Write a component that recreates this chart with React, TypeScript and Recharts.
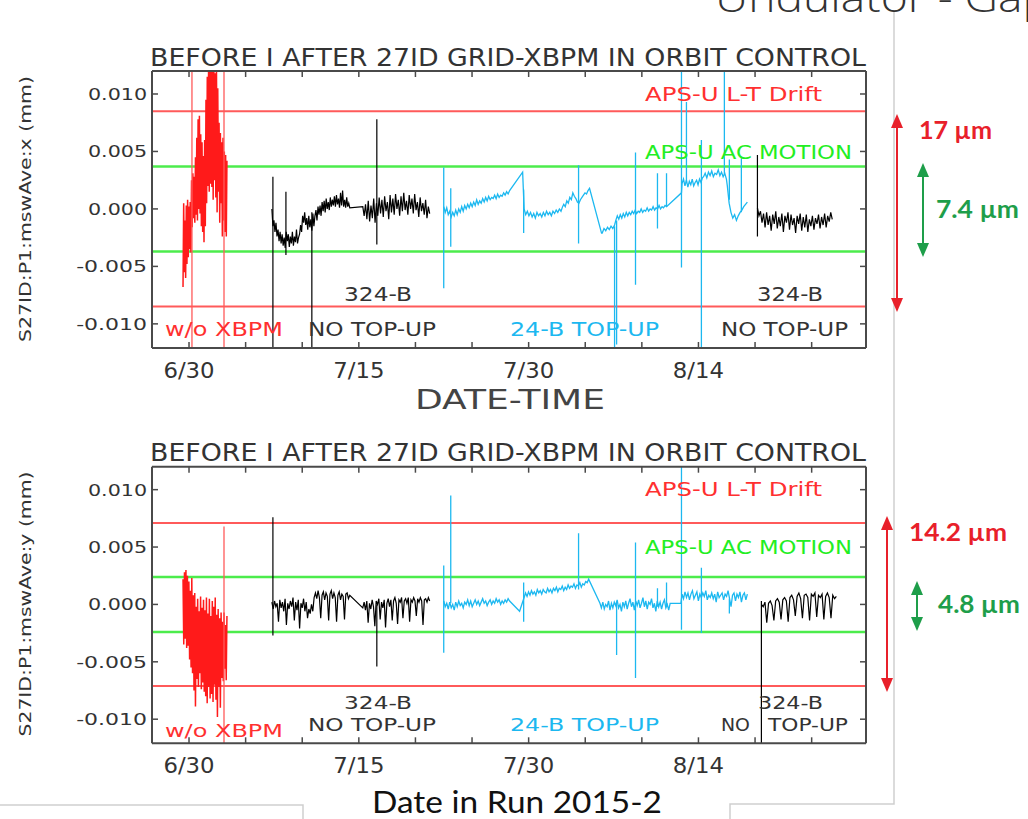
import React from 'react';
import { LineChart, Line, XAxis, YAxis, ReferenceLine } from 'recharts';

// x = days after 6/30, values in µm (converted to mm for the axis)
type Piece = [number, number, number[]];
type Spike = [number, number, number];

const X_TICKS = [0, 5, 10, 15, 20, 25, 30, 35, 40, 45, 50, 55];
const X_LABELS: Record<number, string> = { 0: '6/30', 15: '7/15', 30: '7/30', 45: '8/14' };
const Y_TICKS = [0.01, 0.005, 0, -0.005, -0.01];
const X_DOMAIN: [number, number] = [-3.27, 59.8];
const Y_DOMAIN: [number, number] = [-0.0121, 0.012];

// ---- horizontal (x) panel ----
const xRed: Piece[] = [[-0.53, 3.35, [
  -6.8, 0.5, -5.5, -1, -6, 0.3, -4.8, 0.8, -4.2, 0.2, -3.5, 0.6, -3.8, 2.5, -1.6, 3.1, -0.8, 2.8, -1.2,
  4.5, -0.5, 6.2, -1, 7.8, 0, 8.1, -0.4, 6.5, -1.5, 5.8, -2, 4.6, -2.9, 6, -1.5,
  9.5, 0.5, 11.5, 2, 12.5, 1.5, 13, 2.2, 12.8, 1.9, 13, 0.8, 12.4, 2.5, 11.8, 1, 12.6, -0.3, 10.5, 1.5,
  7.5, -1.2, 6.6, 0.5, 5.8, -2.4, 6.2, -1, 5, -2, 4.7, -2.4, 4.2,
]]];
const xRedSpikes: Spike[] = [[0.26, 12.5, -12.5], [3.09, 12.5, -12.5]];

const xBlackLeft: Piece[] = [
  [7.32, 14.2, [
    0, -1.5, -1, -2, -1.2, -2.4, -1.8, -2.8, -2.0, -3.0, -2.2, -3.2, -2.5, -3.4, -2.0,
    -2.8, -2.2, -3.3, -2.4, -3.0, -2.0, -3.2, -2.4, -2.9, -1.8, -3.0, -2.5,
    -2.2, -1.4, -2.0, -0.6, -1.2, -0.3, -1.4, -0.8, -1.8, -0.6, -1.6, -0.9, -1.9, -0.4, -1.5,
    -0.6, -0.1, -1.0, 0.2, -0.5, 0.3, -0.6, 0.6, -0.2, 0.7, -0.3, 0.9, 0, 0.6, -0.1, 1.0, 0.2, 0.8,
    0.3, 1.1, 0.2, 1.2, 0.4, 0.9, 0.1, 1.4, 0.3, 1.6, 0.2, 0.8, 0.1, 1.0, 0.2, 0.5, 0.1,
  ]],
  [15.35, 21.26, [
    0.2, -0.6, 0.4, -0.9, 0.7, -1.1, 0.3, -0.8, 0.9, -1.2, 0.5, -0.6, 1.0, -0.4, 0.8, -0.7, 1.1, -0.2,
    0.6, -0.9, 1.2, -0.3, 0.9, -0.5, 1.3, 0.0, 0.8, -0.6, 1.1, -0.2, 1.4, -0.1, 0.7, -0.5, 1.2, 0.0,
    0.9, -0.4, 1.3, -0.1, 0.6, -0.7, 1.0, -0.2, 0.5, -0.5, 0.8, -0.8, 0.2, -0.4,
  ]],
];
const xBlackRight: Piece[] = [[50.21, 56.82, [
  0.1, -0.6, -0.2, -1.2, -0.4, -1.6, -0.3, -1.4, -0.6, -1.9, -0.5, -1.3, -0.2, -1.7, -0.7, -1.5, -0.4,
  -2.0, -0.6, -1.2, -0.3, -1.8, -0.5, -1.4, -0.8, -2.1, -0.6, -1.3, -0.4, -1.9, -0.7, -1.6, -0.5, -2.0,
  -0.9, -1.5, -0.6, -1.8, -0.8, -1.3, -0.5, -1.7, -0.7, -1.4, -0.4, -1.6, -0.6, -1.1, -0.3, -0.9,
]]];
const xBlackSpikes: Spike[] = [[7.41, 2.8, -12.5], [8.56, 1.5, -4.0], [10.85, -0.3, -12.5], [16.59, 7.8, -3.1], [50.21, 4.7, -2.4]];

const xCyan: Piece[] = [
  [22.5, 28.32, [
    0.2, -0.3, 0.1, -0.5, -0.2, -0.7, -0.3, -0.6, -0.1, -0.5, 0.0, -0.3, 0.2, -0.2, 0.3, 0.0, 0.4, 0.1,
    0.5, 0.2, 0.6, 0.3, 0.8, 0.4, 0.7, 0.5, 0.9, 0.6, 1.0, 0.7, 1.1, 0.8, 1.0, 0.9, 1.2, 0.9, 1.3, 1.0,
    1.2, 1.1, 1.4, 1.2, 1.5, 1.3, 1.6,
  ]],
  [29.47, 29.47, [3.2]],
  [29.6, 33.0, [
    0.0, -0.5, -0.2, -0.6, -0.3, -0.7, -0.4, -0.8, -0.3, -0.6, -0.4, -0.7, -0.3, -0.6, -0.2, -0.5, -0.3,
    -0.6, -0.2, -0.4, -0.1, -0.3, 0.0, -0.2, 0.2,
  ]],
  [33.1, 35.38, [0.4, 0.2, 0.7, 0.5, 1.0, 0.8, 1.4, 1.1, 0.9, 0.6, 0.5, 0.8, 1.0, 1.2, 1.4, 1.3, 1.6, 1.8]],
  [36.44, 36.44, [-2.1]],
  [36.5, 37.59, [-2.1, -1.7, -1.9, -1.6, -1.8, -1.5, -1.7, -1.4]],
  [37.7, 42.18, [
    -1.0, -0.6, -0.9, -0.5, -0.8, -0.4, -0.7, -0.3, -0.6, -0.3, -0.5, -0.2, -0.4, -0.1, -0.4, -0.2, -0.3,
    0.0, -0.3, -0.1, -0.2, 0.1, -0.2, 0.0, -0.1, 0.2, -0.1, 0.1, 0.0, 0.3, 0.0, 0.2, 0.1, 0.3, 0.2,
  ]],
  [43.5, 43.5, [1.4]],
  [43.55, 45.35, [2.2, 2.6, 2.0, 2.5, 1.9, 2.4, 2.1, 2.6, 2.0, 2.3, 2.5, 2.1, 2.6, 2.3, 2.7]],
  [45.45, 47.47, [2.8, 3.1, 2.7, 3.2, 2.9, 3.3, 2.8, 3.1, 3.0, 3.4, 2.9, 3.2, 2.8, 3.1, 2.6]],
  [47.55, 49.32, [2.0, 0.5, -0.3, -0.8, -0.5, -1.0, -0.6, -0.3, -0.1, 0.2, 0.4, 0.6]],
];
const xCyanSpikes: Spike[] = [
  [22.5, 3.6, -6.9], [23.12, 1.8, -3.3], [29.56, 1.7, -2.1], [34.41, 3.8, -3.0], [37.59, -1.5, -12.5],
  [37.77, -1.0, -11.8], [39.44, 4.9, -6.6], [41.38, 3.1, -1.7], [42.18, 3.1, 0.2], [43.5, 12.5, -5.1],
  [43.94, 9.3, 2.3], [45.26, 6.0, -12.5], [47.29, 12.5, 3.0], [47.73, 4.3, 0.8], [48.79, 4.4, -0.3],
];

// ---- vertical (y) panel ----
const yRed: Piece[] = [[-0.53, 3.35, [
  2.2, -3.5, 2.8, -3.0, 3.0, -3.8, 2.5, -3.6, 2.0, -4.8, 1.2, -5.5, 2.3, -6.0, 0.8, -7.5, 1.0, -8.9,
  -0.2, -6.5, 0.5, -7.2, -0.6, -6.0, 0.7, -7.4, -0.3, -6.8, 0.4, -7.6, -0.5, -8.0, 0.6, -8.6, -0.8,
  -7.2, 0.5, -8.2, -1.0, -7.8, 0.3, -8.5, -0.2, -7.0, 0.6, -8.3, -0.9, -9.8, -0.4, -7.2, -1.2, -9.0,
  -0.7, -6.4, -1.5, -6.7, -0.7, -5.6, -1.8, -6.6, -1.0,
]]];
const yRedSpikes: Spike[] = [[3.09, 6.8, -12.5]];

const yBlackLeft: Piece[] = [
  [7.32, 14.2, [
    0.2, -0.4, 0.3, -0.2, 0.1, -1.5, 0.4, -0.3, 0.2, -0.6, 0.5, -1.8, 0.1, -0.4, 0.3, -0.2, 0.6, -1.4,
    0.2, -0.5, 0.4, -2.1, 0.1, -0.3, 0.5, -0.6, 0.2, -1.2, -0.4, -0.8, 0.0, -0.6, 0.6, 1.0, 0.5, 1.2,
    0.6, -1.2, 0.8, 1.1, 0.4, 1.0, 0.7, -1.4, 0.9, 1.2, 0.5, 1.0, 0.6, -1.5, 0.8, 1.1, 0.4, 0.9, 0.7,
    -1.3, 0.9, 1.0, 0.5, 0.8,
  ]],
  [15.35, 21.26, [
    -0.3, 0.2, -0.5, 0.3, -1.6, 0.1, -0.4, 0.4, -0.2, -1.9, 0.3, 0.0, 0.5, -1.3, 0.2, -0.3, 0.4, -2.0,
    0.1, 0.5, -0.2, 0.4, -1.4, 0.3, 0.6, 0.1, -1.7, 0.4, 0.2, 0.6, -1.2, 0.3, 0.5, 0.1, 0.6, -1.5, 0.4,
    0.2, 0.6, 0.3, -1.0, 0.5, 0.2, 0.6, 0.3, -1.8, 0.4, 0.5, 0.2, 0.6, 0.3,
  ]],
];
const yBlackRight: Piece[] = [[50.56, 57.18, [
  0.0, -0.2, 0.2, -1.6, 0.1, 0.3, -0.1, -1.4, 0.3, 0.5, 0.2, -1.3, 0.4, 0.6, 0.3, -1.5, 0.6, 0.8, 0.4,
  -1.0, 0.7, 1.0, 0.5, -1.2, 0.8, 0.9, 0.6, -1.4, 0.9, 0.7, 1.0, -1.1, 0.8, 0.6, 0.9, -1.3, 0.7, 1.0,
  0.6, -1.2, 0.8, 0.5, 0.7,
]]];
const yBlackSpikes: Spike[] = [[7.41, 7.6, -2.7], [16.59, 0.0, -5.4], [50.56, 0.3, -12.5]];

const yCyan: Piece[] = [
  [22.5, 28.32, [
    0.3, -0.2, 0.1, -0.4, 0.2, -0.3, 0.0, -0.5, 0.2, -0.2, 0.3, -0.1, 0.1, -0.3, 0.2, 0.0, 0.4, -0.1,
    0.3, -0.2, 0.1, 0.4, 0.0, 0.3, -0.1, 0.2, 0.5, 0.1, 0.3, -0.1, 0.2, 0.4, 0.0, 0.3, 0.1, 0.5, 0.2,
    0.4, 0.0, 0.3, 0.1, 0.4, 0.2, 0.5, 0.3,
  ]],
  [29.2, 29.2, [-0.6]],
  [29.6, 35.3, [
    0.6, 1.0, 0.7, 1.1, 0.8, 1.2, 0.9, 1.1, 0.8, 1.3, 1.0, 1.2, 0.9, 1.3, 1.1, 1.0, 1.4, 1.1, 1.3, 1.0,
    1.4, 1.2, 1.5, 1.1, 1.4, 1.3, 1.6, 1.2, 1.5, 1.3, 1.7, 1.4, 1.6, 1.5, 1.8, 1.4, 1.7, 1.6, 1.9, 1.5,
    1.8, 1.7, 2.0, 1.9, 2.2,
  ]],
  [36.3, 42.5, [
    0.1, -0.3, 0.2, -0.4, 0.0, -0.2, 0.3, -0.5, 0.1, -0.3, 0.2, -0.1, 0.4, -0.3, 0.0, -0.6, 0.2, -0.2,
    0.3, -0.4, 0.1, 0.5, -0.2, 0.2, -0.5, 0.3, -0.1, 0.4, -0.3, 0.1, 0.6, -0.2, 0.3, -0.4, 0.2, 0.0,
    0.5, -0.3, 0.1, -0.6, 0.3, -0.2, 0.2, -0.4, 0.1, 0.4, -0.3, 0.0, -0.5, 0.1,
  ]],
  [43.45, 43.45, [0.1]],
  [43.55, 49.32, [
    0.9, 0.5, 1.1, 0.6, 1.0, 0.4, 0.9, 1.2, 0.5, 0.8, 1.1, 0.3, 0.9, 0.6, 1.0, 0.7, 1.2, 0.4, 0.8, 0.6,
    1.0, 0.5, 0.9, 0.2, 1.1, 0.6, 0.8, 1.0, 0.4, 0.9, 0.7, 1.2, 0.5, -0.2, 0.8, 1.0, 0.3, 0.9, 0.6, 1.1,
    0.2, 0.8, 1.0, 0.4, 0.9,
  ]],
];
const yCyanSpikes: Spike[] = [
  [22.5, 3.4, -4.2], [23.12, 9.5, 0.1], [29.56, 1.9, -1.5], [34.41, 6.2, 1.3], [37.77, 0.2, -4.4],
  [39.44, 5.4, -6.4], [41.38, 1.4, -0.2], [42.18, 1.9, -0.2], [43.5, 12.5, -2.2], [45.26, 3.2, -2.5],
  [47.73, 0.5, -0.8],
];

// APS-U limits (µm, half widths)
const X_LIMITS = { drift: 8.5, ac: 3.7 };
const Y_LIMITS = { drift: 7.1, ac: 2.4 };

const RED = '#ff1a1a';
const CYAN = '#1cb8f0';
const REF_RED = '#ff5a5a';
const REF_GREEN = '#4cec4c';
const FRAME = '#4a4a4a';
const INK = '#333';
const PLOT_FONT = 'DejaVu Sans, sans-serif';

const toData = (pieces: Piece[]) =>
  pieces.flatMap(([a, b, vals]) =>
    vals.map((v, i) => ({ x: vals.length > 1 ? a + (i * (b - a)) / (vals.length - 1) : a, y: v / 1000 }))
  );
const toSpikes = (spikes: Spike[]) =>
  spikes.flatMap(([d, hi, lo]) => [{ x: d, y: hi / 1000 }, { x: d, y: lo / 1000 }, { x: d, y: null }]);

const BottomTick = (props: any) => {
  const { x, y, payload } = props;
  const label = X_LABELS[payload.value];
  return (
    <g>
      <line x1={x} x2={x} y1={y} y2={y - 6} stroke={FRAME} strokeWidth={1.5} />
      {label && (
        <text x={x} y={y + 30} textAnchor="middle" fontFamily={PLOT_FONT} fontSize={21} fill={INK}
          textLength={label.length * 12.8} lengthAdjust="spacingAndGlyphs">{label}</text>
      )}
    </g>
  );
};
const TopTick = (props: any) => (
  <line x1={props.x} x2={props.x} y1={props.y} y2={props.y + 6} stroke={FRAME} strokeWidth={1.5} />
);
const LeftTick = (props: any) => {
  const { x, y, payload } = props;
  const label = (payload.value as number).toFixed(3);
  return (
    <g>
      <line x1={x} x2={x + 6} y1={y} y2={y} stroke={FRAME} strokeWidth={1.5} />
      <text x={x - 5} y={y + 6} textAnchor="end" fontFamily={PLOT_FONT} fontSize={16} fill={INK}
        textLength={label.length * 11.8} lengthAdjust="spacingAndGlyphs">{label}</text>
    </g>
  );
};
const RightTick = (props: any) => (
  <line x1={props.x} x2={props.x - 6} y1={props.y} y2={props.y} stroke={FRAME} strokeWidth={1.5} />
);

interface PanelProps {
  height: number;
  top: number;
  bottom: number;
  red: Piece[];
  redSpikes: Spike[];
  blackLeft: Piece[];
  blackRight: Piece[];
  blackSpikes: Spike[];
  cyan: Piece[];
  cyanSpikes: Spike[];
  limits: { drift: number; ac: number };
}

const axisLine = { stroke: FRAME, strokeWidth: 2 };

const Panel: React.FC<PanelProps> = (p) => (
  <LineChart width={1028} height={p.height} margin={{ top: p.top - 10, right: 152, bottom: p.bottom - 40, left: 92 }}>
    <XAxis dataKey="x" type="number" domain={X_DOMAIN} allowDataOverflow ticks={X_TICKS} interval={0}
      height={40} tickSize={0} tickMargin={0} tick={BottomTick} axisLine={axisLine} />
    <XAxis xAxisId="top" orientation="top" dataKey="x" type="number" domain={X_DOMAIN} allowDataOverflow ticks={X_TICKS}
      interval={0} height={10} tickSize={0} tickMargin={0} tick={TopTick} axisLine={axisLine} />
    <YAxis type="number" domain={Y_DOMAIN} allowDataOverflow ticks={Y_TICKS} interval={0} width={60}
      tickSize={0} tickMargin={0} tick={LeftTick} axisLine={axisLine} />
    <YAxis yAxisId="right" orientation="right" type="number" domain={Y_DOMAIN} allowDataOverflow ticks={Y_TICKS}
      interval={0} width={10} tickSize={0} tickMargin={0} tick={RightTick} axisLine={axisLine} />
    <ReferenceLine y={p.limits.drift / 1000} stroke={REF_RED} strokeWidth={2} />
    <ReferenceLine y={-p.limits.drift / 1000} stroke={REF_RED} strokeWidth={2} />
    <ReferenceLine y={p.limits.ac / 1000} stroke={REF_GREEN} strokeWidth={2.5} />
    <ReferenceLine y={-p.limits.ac / 1000} stroke={REF_GREEN} strokeWidth={2.5} />
    <Line data={toData(p.red)} dataKey="y" stroke={RED} strokeWidth={1.5} dot={false} activeDot={false} isAnimationActive={false} />
    <Line data={toSpikes(p.redSpikes)} dataKey="y" stroke={REF_RED} strokeWidth={1.3} dot={false} activeDot={false} isAnimationActive={false} />
    <Line data={toData(p.blackLeft)} dataKey="y" stroke="#000" strokeWidth={1.2} dot={false} activeDot={false} isAnimationActive={false} />
    <Line data={toData(p.blackRight)} dataKey="y" stroke="#000" strokeWidth={1.2} dot={false} activeDot={false} isAnimationActive={false} />
    <Line data={toSpikes(p.blackSpikes)} dataKey="y" stroke="#000" strokeWidth={1.2} dot={false} activeDot={false} isAnimationActive={false} />
    <Line data={toData(p.cyan)} dataKey="y" stroke={CYAN} strokeWidth={1.3} dot={false} activeDot={false} isAnimationActive={false} />
    <Line data={toSpikes(p.cyanSpikes)} dataKey="y" stroke={CYAN} strokeWidth={1.3} dot={false} activeDot={false} isAnimationActive={false} />
  </LineChart>
);

const T = ({ x, y, len, size = 20, fill = INK, family = PLOT_FONT, weight = 400, children }: any) => (
  <text x={x} y={y} fontSize={size} fill={fill} fontFamily={family} fontWeight={weight}
    textLength={len} lengthAdjust="spacingAndGlyphs">{children}</text>
);

const Arrow = ({ x, y1, y2, color }: { x: number; y1: number; y2: number; color: string }) => (
  <g>
    <line x1={x} x2={x} y1={y1 + 10} y2={y2 - 10} stroke={color} strokeWidth={2} />
    <polygon points={`${x},${y1} ${x - 6},${y1 + 14} ${x + 6},${y1 + 14}`} fill={color} />
    <polygon points={`${x},${y2} ${x - 6},${y2 - 14} ${x + 6},${y2 - 14}`} fill={color} />
  </g>
);

const PanelText = ({ dy, bottomRow }: { dy: number; bottomRow: boolean }) => (
  <g>
    <T x={150} y={66 + dy} len={716} size={24}>BEFORE I AFTER 27ID GRID-XBPM IN ORBIT CONTROL</T>
    <T x={645} y={101 + dy} len={177} fill="#ff3030">APS-U L-T Drift</T>
    <T x={645} y={159 + dy} len={207} fill="#22ee22">APS-U AC MOTION</T>
    {bottomRow ? (
      <>
        <T x={344} y={709} len={68} size={17}>324-B</T>
        <T x={308} y={731} len={128} size={17}>NO TOP-UP</T>
        <T x={165} y={737} len={118} size={17} fill="#ff3030">w/o XBPM</T>
        <T x={510} y={731} len={149} size={17} fill={CYAN}>24-B TOP-UP</T>
        <T x={721} y={731} len={29} size={17}>NO</T>
        <T x={758} y={709} len={65} size={17}>324-B</T>
        <T x={768} y={731} len={80} size={17}>TOP-UP</T>
      </>
    ) : (
      <>
        <T x={344} y={301} len={68}>324-B</T>
        <T x={308} y={336} len={128}>NO TOP-UP</T>
        <T x={165} y={336} len={118} fill="#ff3030">w/o XBPM</T>
        <T x={510} y={336} len={149} fill={CYAN}>24-B TOP-UP</T>
        <T x={757} y={301} len={66}>324-B</T>
        <T x={721} y={336} len={127}>NO TOP-UP</T>
      </>
    )}
  </g>
);

export default function App() {
  return (
    <div style={{ position: 'absolute', left: 0, top: 0, width: 1028, height: 819, background: '#fff', overflow: 'hidden' }}>
      <div style={{ position: 'absolute', left: 0, top: 0 }}>
        <Panel height={420} top={71} bottom={72} red={xRed} redSpikes={xRedSpikes} blackLeft={xBlackLeft}
          blackRight={xBlackRight} blackSpikes={xBlackSpikes} cyan={xCyan} cyanSpikes={xCyanSpikes} limits={X_LIMITS} />
      </div>
      <div style={{ position: 'absolute', left: 0, top: 400 }}>
        <Panel height={400} top={66.7} bottom={56.7} red={yRed} redSpikes={yRedSpikes} blackLeft={yBlackLeft}
          blackRight={yBlackRight} blackSpikes={yBlackSpikes} cyan={yCyan} cyanSpikes={yCyanSpikes} limits={Y_LIMITS} />
      </div>
      <svg width={1028} height={819} style={{ position: 'absolute', left: 0, top: 0, pointerEvents: 'none' }}>
        <text x={715} y={12} fontSize={40} fontFamily="Open Sans, sans-serif" fontWeight={300} fill="#333"
          textLength={335} lengthAdjust="spacingAndGlyphs">Undulator - Gap</text>
        <g stroke="#cfcfcf" strokeWidth={1.5} fill="none">
          <polyline points="894,12 894,804 730,804 730,819" />
          <polyline points="0,805 303,805 303,819" />
        </g>
        <PanelText dy={0} bottomRow={false} />
        <PanelText dy={395} bottomRow={true} />
        <T x={415} y={409} len={190} size={27} fill="#444">DATE-TIME</T>
        <text transform="translate(31,209) rotate(-90)" textAnchor="middle" fontSize={15} fontFamily={PLOT_FONT}
          fill={INK} textLength={266} lengthAdjust="spacingAndGlyphs">S27ID:P1:mswAve:x (mm)</text>
        <text transform="translate(31,604) rotate(-90)" textAnchor="middle" fontSize={15} fontFamily={PLOT_FONT}
          fill={INK} textLength={265} lengthAdjust="spacingAndGlyphs">S27ID:P1:mswAve:y (mm)</text>
        <T x={372} y={813} len={290} size={30} fill="#111" family="Lato, Open Sans, sans-serif">Date in Run 2015-2</T>
        <Arrow x={897} y1={114} y2={312} color="#e8202a" />
        <Arrow x={923} y1={163} y2={257} color="#1e9e4a" />
        <Arrow x={887} y1={516} y2={692} color="#e8202a" />
        <Arrow x={917} y1={581} y2={631} color="#1e9e4a" />
        <T x={919} y={139} len={73} size={24} weight={700} fill="#e8202a" family="Lato, Open Sans, sans-serif">17 µm</T>
        <T x={936} y={218} len={83} size={24} weight={700} fill="#1e9e4a" family="Lato, Open Sans, sans-serif">7.4 µm</T>
        <T x={909} y={541} len={98} size={24} weight={700} fill="#e8202a" family="Lato, Open Sans, sans-serif">14.2 µm</T>
        <T x={938} y={613} len={82} size={24} weight={700} fill="#1e9e4a" family="Lato, Open Sans, sans-serif">4.8 µm</T>
      </svg>
    </div>
  );
}
